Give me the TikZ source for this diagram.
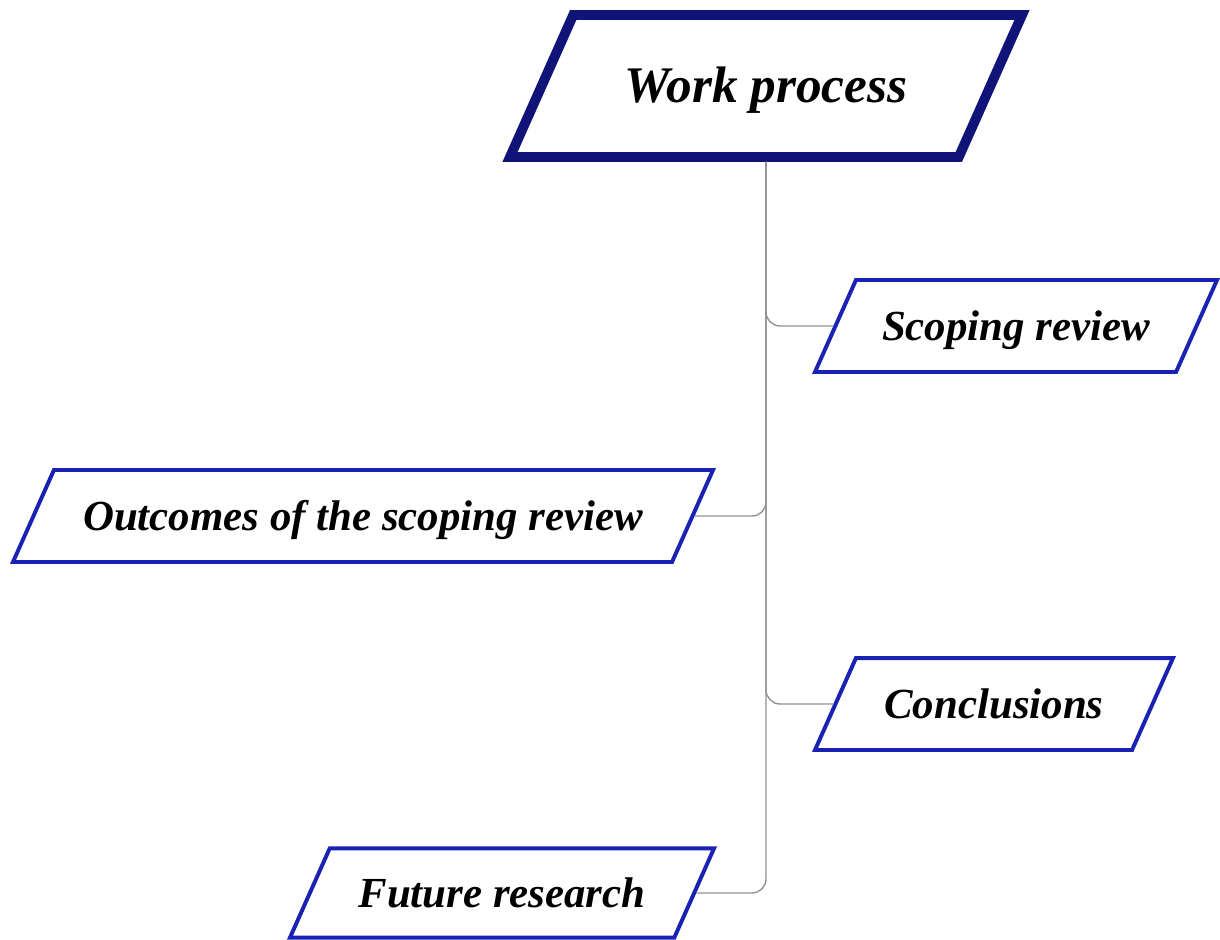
\documentclass[tikz,border=0pt]{standalone}
\usepackage{fontspec}
\setmainfont{Liberation Serif}
\usetikzlibrary{shapes.geometric}
\definecolor{navy}{RGB}{16,20,120}
\definecolor{boxblue}{RGB}{26,34,180}
\begin{document}
\begin{tikzpicture}
			[box/.style={trapezium, trapezium left angle=66, trapezium right angle=114,
				trapezium stretches body=true, draw=boxblue, line width=2.8pt, fill=white,
				font=\fontsize{30.5}{34}\selectfont\bfseries\itshape,
				text height=24pt, text depth=4pt, inner xsep=0pt, inner ysep=18.7pt},
			conn/.style={draw=gray!85, line width=1pt, rounded corners=10pt}]
			\useasboundingbox (0,0) rectangle (30.5,-23.5);
			\node[box, draw=navy, line width=7pt, minimum width=12.8cm,
				font=\fontsize{36.5}{40}\selectfont\bfseries\itshape,
				text height=28.5pt, text depth=4.5pt, inner ysep=34pt] (w) at (19.15,-2.15) {Work process};
			\node[box, minimum width=10.05cm] (s) at (25.4,-8.15) {Scoping review};
			\node[box, minimum width=17.5cm] (o) at (9.075,-12.9) {Outcomes of the scoping review};
			\node[box, minimum width=8.95cm] (c) at (24.85,-17.6) {Conclusions};
			\node[box, minimum width=10.6cm, inner ysep=17.7pt] (f) at (12.55,-22.325) {Future research};
			\draw[conn] (w.south) |- (s.west);
			\draw[conn] (w.south) |- (o.east);
			\draw[conn] (w.south) |- (c.west);
			\draw[conn] (w.south) |- (f.east);
			\end{tikzpicture}
\end{document}
